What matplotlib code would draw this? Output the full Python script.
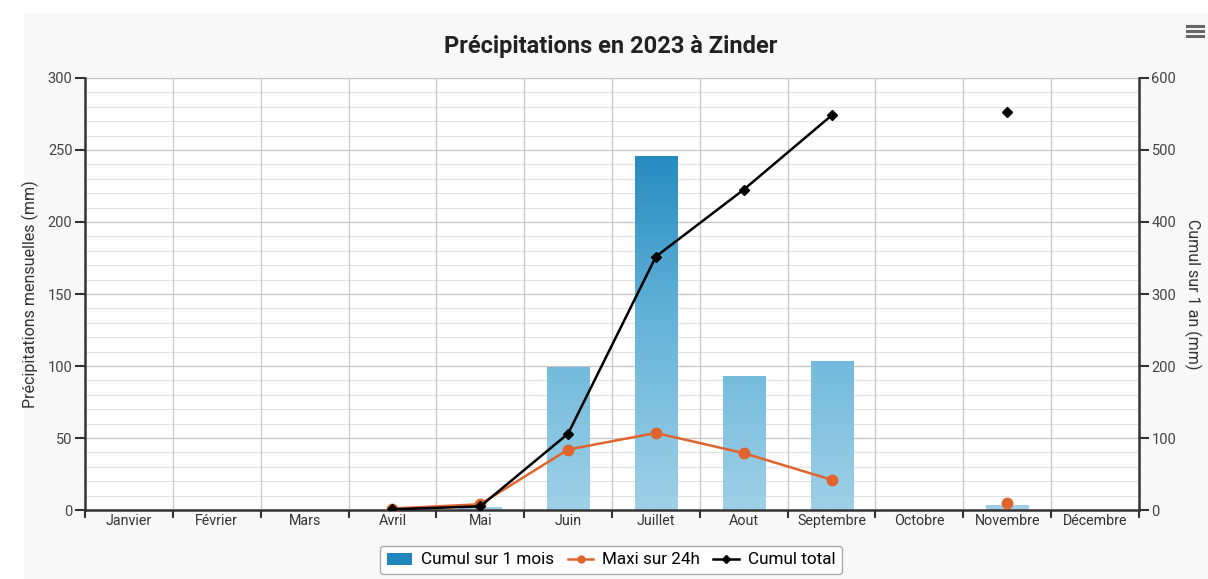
import numpy as np
import matplotlib
matplotlib.use("Agg")
import matplotlib.pyplot as plt
from matplotlib.patches import Rectangle
from matplotlib.lines import Line2D
from matplotlib.colors import LinearSegmentedColormap

plt.rcParams['font.family'] = ['Roboto', 'DejaVu Sans']

months = ["Janvier", "Février", "Mars", "Avril", "Mai", "Juin", "Juillet",
          "Aout", "Septembre", "Octobre", "Novembre", "Décembre"]
cumul_mois = [0, 0, 0, 0, 2, 99, 246, 93, 103.5, 0, 3.5, 0]
maxi_24h = [np.nan, np.nan, np.nan, 1, 4, 42, 53.5, 39.5, 21, np.nan, 5, np.nan]
cumul_total = [np.nan, np.nan, np.nan, 1, 5, 106, 352, 445, 548, np.nan, 553, np.nan]

title = "Précipitations en 2023 à Zinder"
ylabel_left = "Précipitations mensuelles (mm)"
ylabel_right = "Cumul sur 1 an (mm)"
legend_labels = ["Cumul sur 1 mois", "Maxi sur 24h", "Cumul total"]

W, H = 1208, 579
fig = plt.figure(figsize=(W / 100, H / 100), dpi=100)
fig.patch.set_facecolor("white")
bg = Rectangle((0.02, 0), 0.98, 1 - 13 / H, transform=fig.transFigure,
               facecolor="#f8f8f8", edgecolor="none", zorder=-10)
fig.patches.append(bg)

ax = fig.add_axes([85 / W, 1 - 510 / H, (1139 - 85) / W, (510 - 78) / H])
ax.set_facecolor("white")
x = np.arange(len(months))

# gridlines
for v in np.arange(10, 300, 10):
    if v % 50:
        ax.axhline(v, color="#e2e2e2", lw=0.8, zorder=0)
for v in np.arange(50, 301, 50):
    ax.axhline(v, color="#c4c4c4", lw=0.9, zorder=0)
for b in np.arange(0.5, len(months) - 0.5, 1):
    ax.axvline(b, color="#c8c8c8", lw=0.9, zorder=0)

# gradient bars
cmap = LinearSegmentedColormap.from_list("g", ["#9fd0e7", "#66b4d9", "#1f86bd"])
grad = np.linspace(0, 1, 256).reshape(-1, 1)
bars = ax.bar(x, cumul_mois, width=0.48, color="none", edgecolor="none", zorder=2)
for bar in bars:
    if bar.get_height() <= 0:
        continue
    im = ax.imshow(grad, cmap=cmap, aspect="auto", origin="lower",
                   extent=[-0.5, len(months) - 0.5, 0, 260], zorder=2, vmin=0, vmax=1)
    im.set_clip_path(bar)
ax.set_xlim(-0.5, len(months) - 0.5)
ax.set_ylim(0, 300)

ax.plot(x, maxi_24h, color="#e0642e", lw=1.8, marker="o", ms=7.5,
        markerfacecolor="#e0642e", markeredgecolor="#e0642e", zorder=4)

ax2 = ax.twinx()
ax2.set_ylim(0, 600)
ax2.plot(x, cumul_total, color="black", lw=1.8, marker="D", ms=5, zorder=5)

ax.spines["top"].set_visible(False)
ax2.spines["top"].set_visible(False)
ax.spines["right"].set_visible(False)
ax2.spines["left"].set_visible(False)
ax2.spines["bottom"].set_visible(False)
ax.spines["left"].set_color("#333333")
ax.spines["left"].set_linewidth(1.8)
ax.spines["bottom"].set_color("#333333")
ax.spines["bottom"].set_linewidth(1.8)
ax2.spines["right"].set_color("#333333")
ax2.spines["right"].set_linewidth(1.8)

ax.set_yticks(np.arange(0, 301, 50))
ax2.set_yticks(np.arange(0, 601, 100))
ax.tick_params(axis="y", length=7, width=1.5, color="#333333", labelsize=10.5,
               labelcolor="#444444", pad=2)
ax2.tick_params(axis="y", length=7, width=1.5, color="#333333", labelsize=10.5,
                labelcolor="#444444", pad=2)
ax.set_xticks(np.arange(-0.5, len(months), 1))
ax.set_xticklabels([])
ax.tick_params(axis="x", length=6, width=1.5, color="#333333")
ax.set_xticks(x, minor=True)
ax.set_xticklabels(months, minor=True)
ax.tick_params(axis="x", which="minor", length=0, labelsize=10.3, labelcolor="#333333", pad=3)

ax.set_ylabel(ylabel_left, fontsize=11.5, color="#333333", labelpad=6)
ax2.set_ylabel(ylabel_right, fontsize=11.5, color="#333333", rotation=270, labelpad=18)

fig.text(611 / W, 1 - 47 / H, title, ha="center", va="center",
         fontsize=17, fontweight="bold", color="#222222")

handles = [
    Rectangle((0, 0), 1, 1, facecolor="#1f86bd", edgecolor="none"),
    Line2D([], [], color="#e0642e", lw=1.8, marker="o", ms=5),
    Line2D([], [], color="black", lw=1.8, marker="D", ms=4),
]
leg = fig.legend(handles, legend_labels,
                 loc="center", bbox_to_anchor=(611 / W, 1 - 560 / H), ncol=3,
                 frameon=True, fontsize=12.3, handlelength=1.5, columnspacing=0.8,
                 handletextpad=0.5, borderpad=0.4, fancybox=True)
leg.get_frame().set_edgecolor("#999999")
leg.get_frame().set_facecolor("white")
leg.get_frame().set_linewidth(1.0)

for yy in (26, 31, 36):
    fig.add_artist(Line2D([1187 / W, 1203 / W], [1 - yy / H, 1 - yy / H],
                          transform=fig.transFigure, color="#666666", lw=2.2))

fig.savefig("out.png", dpi=100, facecolor=fig.get_facecolor())
